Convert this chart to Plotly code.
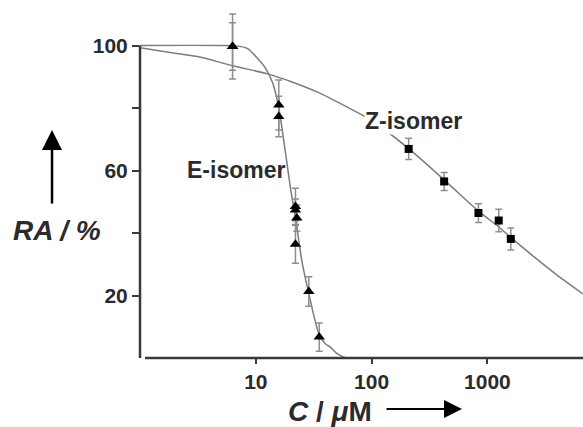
import plotly.graph_objects as go

# ---- data ----
e_conc = [6.3, 6.3, 15.8, 15.8, 22.0, 22.0, 22.6, 22.0, 28.7, 35.3]
e_ra = [99.7, 99.7, 81.0, 77.3, 48.5, 47.4, 44.8, 36.4, 21.3, 6.7]
e_err = [10.4, 7.6, 8.0, 6.5, 5.8, 3.5, 4.2, 6.1, 4.7, 4.5]

z_conc = [209, 423, 837, 1253, 1592]
z_ra = [66.9, 56.5, 46.4, 44.0, 38.1]
z_err = [3.4, 2.9, 3.0, 3.6, 3.5]

# fitted curves
e_fit_conc = [1, 5, 7, 8.5, 10, 12, 14, 15.8, 18, 20, 22, 25, 28.7, 32, 35.3, 40, 44, 50, 60]
e_fit_ra = [100, 100, 99.8, 99, 96.5, 93, 88, 80, 66, 54, 45, 31, 20.5, 13, 7.5, 4.5, 3.5, 1.5, 0]

z_fit_conc = [1, 2, 3.3, 6.3, 12.4, 20, 34.5, 60, 100, 209, 423, 837, 1250, 1600, 2500, 4000, 6670]
z_fit_ra = [99.3, 97.5, 96.3, 93.5, 91, 88.5, 85, 80.5, 76, 67, 57, 47, 42, 38.5, 32.5, 26.5, 20.5]

x_ticks = [10, 100, 1000]
y_ticks = [20, 40, 60, 80, 100]
y_tick_text = ["20", "", "60", "", "100"]

FONT = "Liberation Sans, Arial, sans-serif"
DARK = "#2b2b2b"
AXIS = "#3a3a3a"
CURVE = "#7c7c7c"
ERR = "#8e8e8e"

fig = go.Figure()

fig.add_trace(go.Scatter(x=e_fit_conc, y=e_fit_ra, mode="lines",
                         line=dict(color=CURVE, width=1.5, shape="spline", smoothing=0.8),
                         showlegend=False, hoverinfo="skip"))
fig.add_trace(go.Scatter(x=z_fit_conc, y=z_fit_ra, mode="lines",
                         line=dict(color=CURVE, width=1.5, shape="spline", smoothing=0.8),
                         showlegend=False, hoverinfo="skip"))

fig.add_trace(go.Scatter(x=e_conc, y=e_ra, mode="markers",
                         marker=dict(symbol="triangle-up", size=10, color="black"),
                         error_y=dict(type="data", array=e_err, visible=True,
                                      color=ERR, thickness=1.5, width=3.5),
                         showlegend=False))
fig.add_trace(go.Scatter(x=z_conc, y=z_ra, mode="markers",
                         marker=dict(symbol="square", size=8, color="black"),
                         error_y=dict(type="data", array=z_err, visible=True,
                                      color=ERR, thickness=1.5, width=3.5),
                         showlegend=False))

fig.update_layout(
    width=583, height=427,
    margin=dict(l=140, r=0, t=10, b=69),
    paper_bgcolor="white", plot_bgcolor="white",
    font=dict(family=FONT, color=DARK),
    xaxis=dict(type="log", range=[0, 3.8256], tickvals=x_ticks,
               ticktext=[str(v) for v in x_ticks],
               ticks="outside", ticklen=5, tickwidth=2, tickcolor=AXIS,
               showline=False, showgrid=False, zeroline=False,
               tickfont=dict(family=FONT, size=21, color=DARK, weight="bold")),
    yaxis=dict(range=[0, 111.36], tickvals=y_ticks, ticktext=y_tick_text,
               ticks="outside", ticklen=7, tickwidth=2, tickcolor=AXIS,
               showline=False, showgrid=False, zeroline=False,
               tickfont=dict(family=FONT, size=21, color=DARK, weight="bold")),
    showlegend=False,
)

# axis lines (y-axis stops at 100; x-axis starts with a small gap)
fig.add_shape(type="line", xref="paper", yref="y", x0=0, x1=0, y0=0, y1=100,
              line=dict(color=AXIS, width=2.5))
fig.add_shape(type="line", xref="paper", yref="paper", x0=0.0113, x1=1, y0=0, y1=0,
              line=dict(color=AXIS, width=2.5))

# labels
lab = dict(xref="paper", yref="paper", showarrow=False,
           xanchor="center", yanchor="middle")
fig.add_annotation(x=0.2178, y=0.540, text="<b>E-isomer</b>",
                   font=dict(family=FONT, size=23, color=DARK), **lab)
fig.add_annotation(x=0.6185, y=0.681, text="<b>Z-isomer</b>", bgcolor="white",
                   borderpad=0, font=dict(family=FONT, size=23, color=DARK), **lab)
fig.add_annotation(x=-0.187, y=0.365, text="<b><i>RA / %</i></b>",
                   font=dict(family=FONT, size=28, color=DARK), **lab)
fig.add_annotation(x=0.429, y=-0.155, text="<b><i>C</i> / <i>μ</i>M</b>",
                   font=dict(family=FONT, size=28, color=DARK), **lab)

# arrows
fig.add_annotation(xref="paper", yref="paper", x=-0.1986, y=0.655,
                   ax=0, ay=75, text="", showarrow=True,
                   arrowhead=2, arrowwidth=2.5, arrowsize=1.6, arrowcolor="black")
fig.add_annotation(xref="paper", yref="paper", x=0.7269, y=-0.1466,
                   ax=-77, ay=0, text="", showarrow=True,
                   arrowhead=2, arrowwidth=2, arrowsize=1.8, arrowcolor="black")

fig.write_html("out.html",
               config={"displayModeBar": False},
               post_script="document.body.style.margin='0';"
                           "document.body.style.overflow='hidden';")
